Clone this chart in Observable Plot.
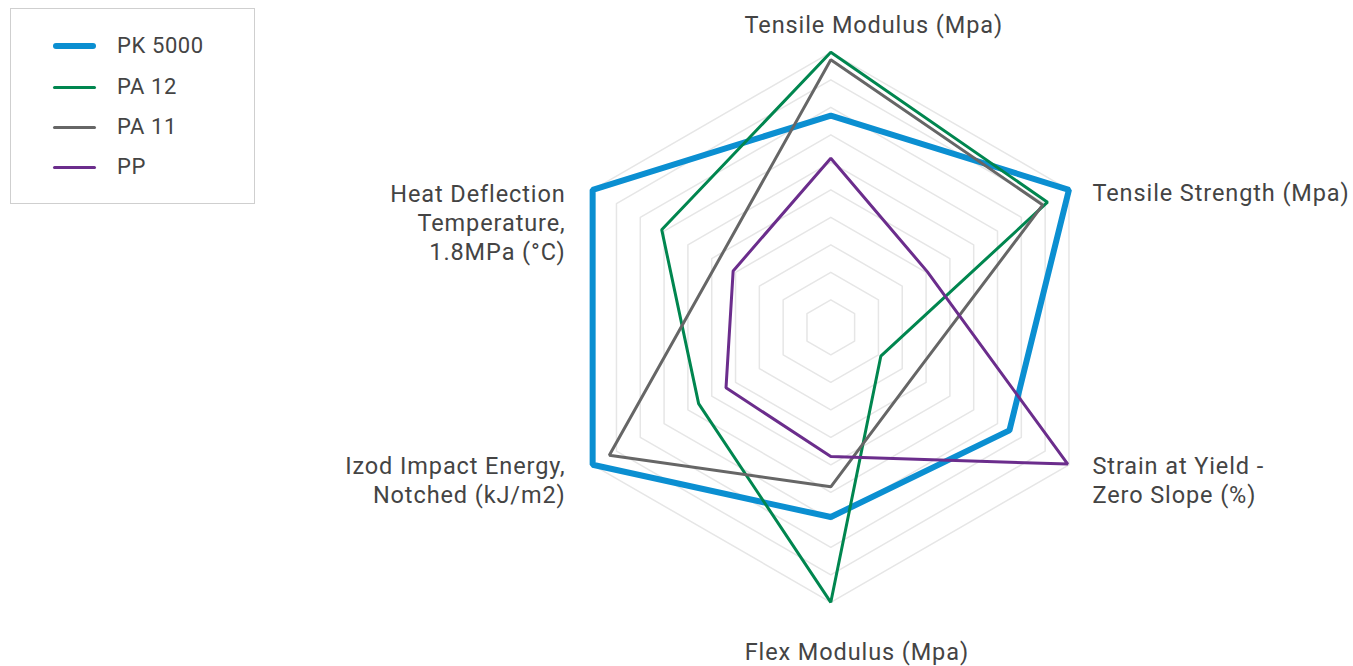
<!DOCTYPE html>
<html>
<head>
<meta charset="utf-8">
<script src="https://cdn.jsdelivr.net/npm/d3@7"></script>
<script src="https://cdn.jsdelivr.net/npm/@observablehq/plot@0.6"></script>
<style>
  html, body { margin: 0; padding: 0; background: #fff; }
  #wrap { position: relative; width: 1353px; height: 666px; font-family: Roboto, sans-serif; }
  #legend { position: absolute; left: 10px; top: 8px; width: 243px; height: 194px; border: 1px solid #cfcfcf; box-sizing: content-box; }
  .swatch { position: absolute; left: 42px; width: 43px; border-radius: 4px; }
  .lbl { position: absolute; left: 106px; font-size: 22px; letter-spacing: 0.6px; color: #444; white-space: nowrap; line-height: 30px; }
</style>
</head>
<body>
<div id="wrap"><div id="legend"></div></div>
<script>
// Axis (category) labels, clockwise from top
const axes = [
  "Tensile Modulus (Mpa)",
  "Tensile Strength (Mpa)",
  "Strain at Yield -\nZero Slope (%)",
  "Flex Modulus (Mpa)",
  "Izod Impact Energy,\nNotched (kJ/m2)",
  "Heat Deflection\nTemperature,\n1.8MPa (°C)"
];
const seriesNames = ["PK 5000", "PA 12", "PA 11", "PP"];
// Normalized values (fraction of the outer ring), per axis
const pk5000 = [0.77, 1.0, 0.75, 0.69, 1.0, 1.0];
const pa12   = [1.0, 0.91, 0.21, 1.0, 0.555, 0.71];
const pa11   = [0.973, 0.89, 0.35, 0.58, 0.93, 0.475];
const pp     = [0.615, 0.405, 0.995, 0.47, 0.44, 0.41];
const gridLevels = [0.1, 0.2, 0.3, 0.4, 0.5, 0.6, 0.7, 0.8, 0.9, 1.0];

const seriesValues = [pk5000, pa12, pa11, pp];
const colors = ["#0b8fd1", "#00864f", "#666666", "#6b2d8c"];
const widths = [6, 3, 3, 3];

const W = 1353, H = 666, cx = 830.3, cy = 326.8, R = 275;
const n = axes.length;
const ang = i => (i * 2 * Math.PI) / n;
const px = (i, r) => r * Math.sin(ang(i));
const py = (i, r) => r * Math.cos(ang(i));

const gridData = gridLevels.flatMap(level => axes.map((a, i) => ({level, x: px(i, level), y: py(i, level)})));

const seriesData = seriesNames.map((name, s) =>
  seriesValues[s].map((v, i) => ({series: name, axis: axes[i], x: px(i, v), y: py(i, v)}))
);

// label layout: anchor and pixel offsets relative to the outer vertex
const labelLayout = [
  {textAnchor: "middle", lineAnchor: "middle", dx: 43, dy: -29},
  {textAnchor: "start", lineAnchor: "top", dx: 23.5, dy: -9},
  {textAnchor: "start", lineAnchor: "top", dx: 23.5, dy: -11},
  {textAnchor: "middle", lineAnchor: "middle", dx: 26, dy: 48},
  {textAnchor: "end", lineAnchor: "top", dx: -27, dy: -11},
  {textAnchor: "end", lineAnchor: "top", dx: -27, dy: -8.5}
];

const labelMarks = axes.map((a, i) => Plot.text([{t: a, x: px(i, 1), y: py(i, 1)}], {
  x: "x", y: "y", text: "t",
  textAnchor: labelLayout[i].textAnchor,
  lineAnchor: labelLayout[i].lineAnchor,
  dx: labelLayout[i].dx, dy: labelLayout[i].dy,
  fontSize: 23.5, lineHeight: 29 / 23.5, fill: "#444", fontFamily: "Roboto"
}));

const chart = Plot.plot({
  width: W, height: H,
  marginTop: 0, marginRight: 0, marginBottom: 0, marginLeft: 0,
  x: {type: "linear", domain: [-cx / R, (W - cx) / R], axis: null},
  y: {type: "linear", domain: [-(H - cy) / R, cy / R], axis: null},
  style: {fontFamily: "Roboto", background: "white"},
  marks: [
    Plot.line(gridData, {x: "x", y: "y", z: "level", curve: "linear-closed", stroke: "#e6e6e6", strokeWidth: 1.5}),
    ...seriesData.map((d, s) => Plot.line(d, {
      x: "x", y: "y", curve: "linear-closed",
      stroke: colors[s], strokeWidth: widths[s], strokeLinejoin: "miter"
    })),
    ...labelMarks
  ]
});
d3.select(chart).selectAll("text").attr("letter-spacing", "0.9px");
document.getElementById("wrap").prepend(chart);
chart.style.position = "absolute";
chart.style.left = "0"; chart.style.top = "0";

const legend = document.getElementById("legend");
seriesNames.forEach((name, s) => {
  const top = [37, 78, 118, 158][s];
  const sw = document.createElement("div");
  sw.className = "swatch";
  sw.style.top = (top - widths[s] / 2) + "px";
  sw.style.height = widths[s] + "px";
  sw.style.background = colors[s];
  legend.appendChild(sw);
  const t = document.createElement("div");
  t.className = "lbl";
  t.style.top = (top - 15) + "px";
  t.textContent = name;
  legend.appendChild(t);
});
</script>
</body>
</html>
